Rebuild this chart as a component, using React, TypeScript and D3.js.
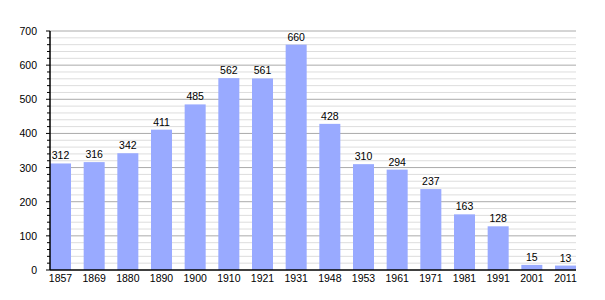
import React from "react";
import * as d3 from "d3";

const years = ["1857","1869","1880","1890","1900","1910","1921","1931","1948","1953","1961","1971","1981","1991","2001","2011"];
const population = [312,316,342,411,485,562,561,660,428,310,294,237,163,128,15,13];
const yTicks = [0,100,200,300,400,500,600,700];

const W = 605, H = 300;
const left = 50, right = 576, top = 31, bottom = 270;

export default function App() {
  const x = d3.scaleBand<string>().domain(years).range([left, right]).paddingInner(0.376).paddingOuter(0);
  const y = d3.scaleLinear().domain([0, 700]).range([bottom, top]);
  const minor = d3.range(0, 701, 20);
  const font = "'Liberation Sans', Arial, sans-serif";
  return (
    <svg width={W} height={H} style={{ position: "absolute", left: 0, top: 0, background: "#fff" }} fontFamily={font}>
      {minor.filter(v => v % 100 !== 0).map(v => (
        <line key={"m" + v} x1={left} x2={right} y1={y(v)} y2={y(v)} stroke="#dddddd" strokeWidth={1} />
      ))}
      {yTicks.filter(v => v > 0).map(v => (
        <line key={"g" + v} x1={left} x2={right} y1={y(v)} y2={y(v)} stroke="#aaaaaa" strokeWidth={1} />
      ))}
      {years.map((yr, i) => (
        <rect key={yr} x={x(yr)} y={y(population[i])} width={x.bandwidth()} height={bottom - y(population[i])} fill="#99aaff" />
      ))}
      {years.map((yr, i) => (
        <text key={"l" + yr} x={(x(yr) as number) + x.bandwidth() / 2} y={y(population[i]) - 4} textAnchor="middle" fontSize={10.5} fill="#000">{population[i]}</text>
      ))}
      {minor.map(v => (
        <line key={"t" + v} x1={v % 100 === 0 ? 46 : 47} x2={left} y1={y(v)} y2={y(v)} stroke="#000" strokeWidth={1} />
      ))}
      <line x1={left} x2={left} y1={top} y2={bottom} stroke="#000" strokeWidth={1.5} />
      <line x1={left} x2={right} y1={bottom} y2={bottom} stroke="#000" strokeWidth={1.5} />
      {yTicks.map(v => (
        <text key={"y" + v} x={37} y={y(v) + 4} textAnchor="end" fontSize={10.5} fill="#000">{v}</text>
      ))}
      {years.map(yr => (
        <text key={"x" + yr} x={(x(yr) as number) + x.bandwidth() / 2} y={282} textAnchor="middle" fontSize={10.5} fill="#000">{yr}</text>
      ))}
    </svg>
  );
}
